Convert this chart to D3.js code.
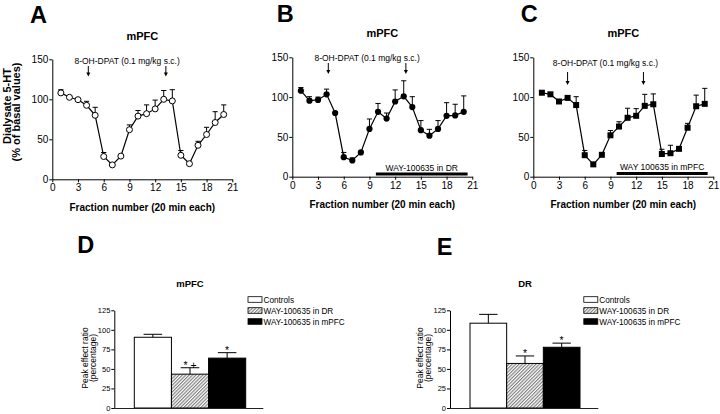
<!DOCTYPE html>
<html><head><meta charset="utf-8">
<script src="https://cdn.jsdelivr.net/npm/d3@7"></script>
<style>body{margin:0;background:#fff}svg{display:block;font-family:"Liberation Sans",Arial,sans-serif}</style>
</head><body><svg id="c" width="720" height="414"></svg>
<script>
// ---------- data ----------
const fractions = [1,2,3,4,5,6,7,8,9,10,11,12,13,14,15,16,17,18,19,20];
const xTicks = [0,3,6,9,12,15,18,21];
const yTicksLine = [0,50,100,150];
const yTicksBar = [0,25,50,75,100,125];

const A_mean = [108,102.5,99.5,92.5,80,28.5,18,29,62,79,82,88,100,98,30,19.5,42.5,56,71,81];
const A_err  = [4,1.5,1,5,10,5,1,2,6,7,11,11,11,14,6,1,5,9,13.5,12];
const B_mean = [108,95.5,96.5,103.5,80,24.5,20.5,30.5,60,81.5,73,94.5,101,87.5,58.5,51.5,60,76.5,77,81.5];
const B_err  = [4,5,3.5,6.5,1,6,3,1,12.5,10.5,7,14.5,19.5,13,12,8,10.5,16.5,14,20];
const C_mean = [105.5,103.5,94.5,99,90,27,15.5,27.5,52,63,74,76.5,89,91,28.5,29.5,35,61.5,88.5,91.5];
const C_err  = [1,1,1,3,10.5,6,1,1,6,6,12,9,14.5,13,6,10,1,5.5,14,19.5];

const injectionA = [4.2, 13.25];
const injectionB = [4.2, 13.25];
const injectionC = [4.0, 12.85];
const treatB = [9.75, 20.45];
const treatC = [9.72, 20.34];

const groups = ["Controls","WAY-100635 in DR","WAY-100635 in mPFC"];
const D_mean = [90.5, 43.3, 63.8];
const D_err  = [3.8, 8.2, 7];
const D_sig  = ["", "* +", "*"];
const E_mean = [108.5, 57, 77.7];
const E_err  = [11.3, 9.6, 5.3];
const E_sig  = ["", "*", "*"];

// ---------- drawing ----------
const svg = d3.select("#c");
const defs = svg.append("defs");
const pat = defs.append("pattern").attr("id","hatch").attr("patternUnits","userSpaceOnUse")
  .attr("width",2.4).attr("height",2.4).attr("patternTransform","rotate(45)");
pat.append("rect").attr("width",2.4).attr("height",2.4).attr("fill","#fff");
pat.append("line").attr("x1",0.6).attr("y1",0).attr("x2",0.6).attr("y2",2.4).attr("stroke","#6a6a6a").attr("stroke-width",1);

function styleAxis(sel, fs){
  sel.select(".domain").attr("stroke","#000").attr("stroke-width",1);
  sel.selectAll(".tick line").attr("stroke","#000");
  sel.selectAll(".tick text").attr("font-size",fs).attr("font-family","Liberation Sans, Arial, sans-serif").attr("fill","#000");
}

function letter(t,x,y){
  svg.append("text").attr("x",x).attr("y",y).attr("font-size",23.5).attr("font-weight","bold").text(t);
}

function linePanel(c){
  const x = d3.scaleLinear().domain([0,21]).range([c.x0,c.x1]);
  const y = d3.scaleLinear().domain([0,150]).range([c.y0,c.y1]);
  const g = svg.append("g");
  g.append("g").attr("transform",`translate(0,${c.y0})`)
    .call(d3.axisBottom(x).tickValues(xTicks).tickSize(3).tickSizeOuter(0).tickPadding(2))
    .call(s=>styleAxis(s,10));
  g.append("g").attr("transform",`translate(${c.x0},0)`)
    .call(d3.axisLeft(y).tickValues(yTicksLine).tickSize(3).tickSizeOuter(0).tickPadding(1))
    .call(s=>styleAxis(s,10));
  g.append("text").attr("x",(c.x0+c.x1)/2).attr("y",c.titleY).attr("text-anchor","middle")
    .attr("font-size",11).attr("font-weight","bold").text("mPFC");
  g.append("text").attr("x",(c.x0+c.x1)/2).attr("y",c.xlabY).attr("text-anchor","middle")
    .attr("font-size",10).attr("font-weight","bold").text("Fraction number (20 min each)");
  const mid = (c.inj[0]+c.inj[1])/2;
  g.append("text").attr("x",x(mid)).attr("y",c.annY).attr("text-anchor","middle")
    .attr("font-size",8.5).text("8-OH-DPAT (0.1 mg/kg s.c.)");
  c.inj.forEach(v=>{
    g.append("line").attr("x1",x(v)).attr("x2",x(v)).attr("y1",c.arY0).attr("y2",c.arY1-3)
      .attr("stroke","#000").attr("stroke-width",1);
    g.append("path").attr("d",`M${x(v)-2},${c.arY1-4} L${x(v)+2},${c.arY1-4} L${x(v)},${c.arY1} Z`).attr("fill","#000");
  });
  if(c.treat){
    g.append("line").attr("x1",x(c.treat[0])).attr("x2",x(c.treat[1])).attr("y1",c.treatY).attr("y2",c.treatY)
      .attr("stroke","#000").attr("stroke-width",3);
    g.append("text").attr("x",x((c.treat[0]+c.treat[1])/2)).attr("y",c.treatY-3.2).attr("text-anchor","middle")
      .attr("font-size",8.5).text(c.treatLabel);
  }
  const data = fractions.map((f,i)=>({f, m:c.mean[i], e:c.err[i]}));
  const eb = g.append("g").attr("stroke","#000").attr("stroke-width",1);
  data.forEach(d=>{
    eb.append("line").attr("x1",x(d.f)).attr("x2",x(d.f)).attr("y1",y(d.m)).attr("y2",y(d.m+d.e));
    eb.append("line").attr("x1",x(d.f)-2.6).attr("x2",x(d.f)+2.6).attr("y1",y(d.m+d.e)).attr("y2",y(d.m+d.e));
  });
  g.append("path").datum(data).attr("fill","none").attr("stroke","#000").attr("stroke-width",1.2)
    .attr("d",d3.line().x(d=>x(d.f)).y(d=>y(d.m)));
  const mk = g.append("g");
  data.forEach(d=>{
    if(c.marker==="open"){
      mk.append("circle").attr("cx",x(d.f)).attr("cy",y(d.m)).attr("r",3).attr("fill","#fff").attr("stroke","#000").attr("stroke-width",1);
    } else if(c.marker==="dot"){
      mk.append("circle").attr("cx",x(d.f)).attr("cy",y(d.m)).attr("r",3.1).attr("fill","#000");
    } else {
      mk.append("rect").attr("x",x(d.f)-3).attr("y",y(d.m)-3).attr("width",6).attr("height",6).attr("fill","#000");
    }
  });
}

linePanel({x0:52.3,x1:232.3,y0:179.3,y1:59.3,mean:A_mean,err:A_err,marker:"open",inj:injectionA,
  titleY:40,xlabY:210.5,annY:64,arY0:66,arY1:76.5});
linePanel({x0:292.3,x1:472.3,y0:176.7,y1:57.3,mean:B_mean,err:B_err,marker:"dot",inj:injectionB,
  titleY:37,xlabY:208,annY:60.5,arY0:63,arY1:74,treat:treatB,treatY:174,treatLabel:"WAY-100635 in DR"});
linePanel({x0:533.3,x1:713.3,y0:176.7,y1:57.3,mean:C_mean,err:C_err,marker:"sq",inj:injectionC,
  titleY:37,xlabY:208,annY:65.5,arY0:72,arY1:85,treat:treatC,treatY:173.5,treatLabel:"WAY 100635 in mPFC"});

svg.append("text").attr("transform","translate(10.5,106) rotate(-90)").attr("text-anchor","middle")
  .attr("font-size",11).attr("font-weight","bold").text("Dialysate 5-HT");
svg.append("text").attr("transform","translate(19.5,112) rotate(-90)").attr("text-anchor","middle")
  .attr("font-size",11).attr("font-weight","bold").text("(% of basal values)");

function barPanel(c){
  const y = d3.scaleLinear().domain([0,125]).range([408,310.3]);
  const x = d3.scaleBand().domain(groups).range([c.b0,c.b1]).padding(0);
  const g = svg.append("g");
  g.append("g").attr("transform",`translate(${c.ax0},0)`)
    .call(d3.axisLeft(y).tickValues(yTicksBar).tickSize(3).tickSizeOuter(0).tickPadding(1))
    .call(s=>styleAxis(s,7.5));
  const fills = ["#fff","url(#hatch)","#000"];
  groups.forEach((k,i)=>{
    g.append("rect").attr("x",x(k)).attr("y",y(c.mean[i])).attr("width",x.bandwidth()).attr("height",y(0)-y(c.mean[i]))
      .attr("fill",fills[i]).attr("stroke","#000").attr("stroke-width",1);
    const cx = x(k)+x.bandwidth()/2, top = y(c.mean[i]+c.err[i]);
    g.append("line").attr("x1",cx).attr("x2",cx).attr("y1",y(c.mean[i])).attr("y2",top).attr("stroke","#000");
    g.append("line").attr("x1",cx-x.bandwidth()/4).attr("x2",cx+x.bandwidth()/4).attr("y1",top).attr("y2",top).attr("stroke","#000");
    if(c.sig[i]) g.append("text").attr("x",cx).attr("y",top+1).attr("text-anchor","middle").attr("font-size",10.5).text(c.sig[i]);
  });
  g.append("line").attr("x1",c.ax0).attr("x2",c.ax1).attr("y1",408.5).attr("y2",408.5).attr("stroke","#222").attr("stroke-width",1);
  g.append("text").attr("x",c.titleX).attr("y",287.3).attr("text-anchor","middle").attr("font-size",9.5).attr("font-weight","bold").text(c.title);
  g.append("text").attr("transform",`translate(${c.lab1},358) rotate(-90)`).attr("text-anchor","middle").attr("font-size",8.5).text("Peak effect ratio");
  g.append("text").attr("transform",`translate(${c.lab2},358) rotate(-90)`).attr("text-anchor","middle").attr("font-size",8.5).text("(percentage)");
  const lg = g.append("g").attr("transform",`translate(${c.lx},0)`);
  groups.forEach((k,i)=>{
    const cy = 299.5 + i*11;
    lg.append("rect").attr("x",0.5).attr("y",cy-2.8).attr("width",14).attr("height",5.6).attr("fill",fills[i]).attr("stroke","#000").attr("stroke-width",0.8);
    lg.append("text").attr("x",16).attr("y",cy+3).attr("font-size",8.2).text(k);
  });
}

barPanel({ax0:114.3,ax1:263.3,b0:134.3,b1:245.7,mean:D_mean,err:D_err,sig:D_sig,title:"mPFC",titleX:190,lab1:87.5,lab2:95.5,lx:247.5});
barPanel({ax0:450,ax1:598.3,b0:470,b1:580,mean:E_mean,err:E_err,sig:E_sig,title:"DR",titleX:525,lab1:422.5,lab2:430.5,lx:583.3});

letter("A",30,22.5); letter("B",276.7,22.2); letter("C",520.7,22); letter("D",77.3,253.3); letter("E",436.7,255);
</script></body></html>
